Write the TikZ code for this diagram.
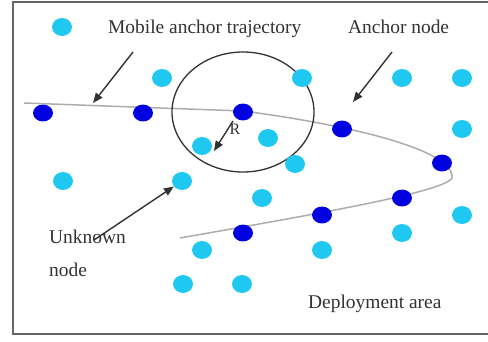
\documentclass[tikz,border=0pt]{standalone}
\usepackage{fontspec}
\setmainfont{Liberation Serif}
\usetikzlibrary{arrows.meta}
\usetikzlibrary{shapes.geometric}
\definecolor{lightdot}{RGB}{30,200,240}
\definecolor{darkdot}{RGB}{0,0,225}
\definecolor{inkgray}{RGB}{50,50,50}
\tikzset{anc/.style={ellipse, fill=darkdot, inner sep=0pt, minimum width=20pt, minimum height=17pt},
  unk/.style={ellipse, fill=lightdot, inner sep=0pt, minimum width=20pt, minimum height=18pt},
  lbl/.style={text=inkgray, font=\fontsize{19.5}{33}\selectfont, inner sep=0pt, anchor=base west, align=left},
  pointer/.style={-{Triangle[length=10pt,width=8pt]}, draw=inkgray, line width=1.4pt}}

\begin{document}
\begin{tikzpicture}[x=1bp, y=-1bp]
		\useasboundingbox (0,0) rectangle (488,341);
		\draw[gray!80!black, line width=2pt] (13,2) rectangle (500,334);
		% trajectory and range
		\draw[gray!65, line width=1.5pt] (24,103) -- (243,111) .. controls (350,125) and (455,150) .. (452,178)
			.. controls (445,192) and (310,215) .. (180,238);
		\draw[inkgray, line width=1.3pt] (243,112) ellipse (71 and 60);
		% anchor nodes
		\node[anc] (a1) at (43,113) {}; \node[anc] (a2) at (143,113) {}; \node[anc] (a3) at (243,112) {};
		\node[anc] (a4) at (342,129) {}; \node[anc] (a5) at (442,163) {}; \node[anc] (a6) at (402,198) {};
		\node[anc] (a7) at (322,215) {}; \node[anc] (a8) at (243,233) {};
		% unknown nodes
		\node[unk] (u1) at (62,27) {}; \node[unk] (u2) at (162,78) {}; \node[unk] (u3) at (302,78) {};
		\node[unk] (u4) at (402,78) {}; \node[unk] (u5) at (462,78) {}; \node[unk] (u6) at (462,129) {};
		\node[unk] (u7) at (268,138) {}; \node[unk] (u8) at (202,146) {}; \node[unk] (u9) at (295,164) {};
		\node[unk] (u10) at (63,181) {}; \node[unk] (u11) at (182,181) {}; \node[unk] (u12) at (262,198) {};
		\node[unk] (u13) at (202,250) {}; \node[unk] (u14) at (322,250) {}; \node[unk] (u15) at (402,233) {};
		\node[unk] (u16) at (462,215) {}; \node[unk] (u17) at (183,284) {}; \node[unk] (u18) at (242,284) {};
		% labels
		\node[lbl] (trajtext) at (108,33) {Mobile anchor trajectory};
		\node[lbl] (anctext) at (348,33) {Anchor node};
		\node[lbl] (unktext) at (49,276) {Unknown\\node};
		\node[lbl] (areatext) at (308,308) {Deployment area};
		\node[text=inkgray, font=\fontsize{16}{16}\selectfont, inner sep=0pt] (rtext) at (235,129) {R};
		% pointers
		\coordinate (trajfrom) at (133,52); \coordinate (trajto) at (93,103);
		\coordinate (ancfrom) at (392,52); \coordinate (ancto) at (353,102);
		\coordinate (unkfrom) at (94,240);
		\coordinate (rfrom) at (233,121); \coordinate (rto) at (214,151);
		\draw[pointer] (trajfrom) -- (trajto);
		\draw[pointer] (ancfrom) -- (ancto);
		\draw[pointer] (unkfrom) -- (u11);
		\draw[pointer] (rfrom) -- (rto);
		\end{tikzpicture}
\end{document}
